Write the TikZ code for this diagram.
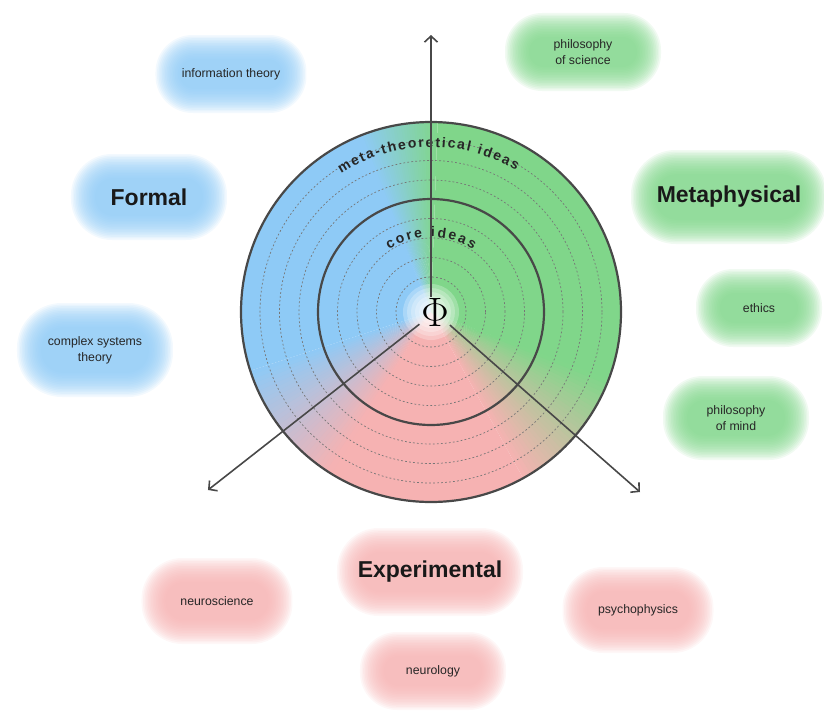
\documentclass[tikz,border=0pt]{standalone}
\usepackage[no-math]{fontspec}
\setmainfont{Liberation Sans}
\usetikzlibrary{arrows.meta,decorations.text}

\definecolor{fblue}{RGB}{142,202,246}
\definecolor{fgreen}{RGB}{128,214,138}
\definecolor{fred}{RGB}{246,178,178}
\definecolor{rimgray}{RGB}{72,72,72}

\newcommand{\arcfont}{\fontsize{14}{16}\selectfont\bfseries}

\tikzset{
  rim/.style={draw=rimgray, line width=2.2pt},
  ring/.style={draw=rimgray!75, line width=0.7pt, dash pattern=on 1.8pt off 2.2pt},
  axis/.style={draw=rimgray, line width=1.6pt, -{Straight Barb[length=6pt,width=13pt]}},
  lbl/.style={align=center, text=black!85, font=\fontsize{12.3}{16}\selectfont},
  head/.style={align=center, text=black!90, font=\fontsize{23}{27}\selectfont\bfseries},
}

% soft glowing label: name, position, width, height, colour, style, text
\newcommand{\blob}[7]{%
  \begin{scope}[shift={#2}]
    \foreach \k in {0,...,15}{
      \pgfmathsetmacro\bw{#3/2+8-1.6*\k}
      \pgfmathsetmacro\bh{#4/2+8-1.6*\k}
      \fill[#5, opacity=0.11, rounded corners=0.95*\bh pt] (-\bw,-\bh) rectangle (\bw,\bh);
    }
  \end{scope}
  \node[#6] (#1) at #2 {#7};
}

\begin{document}
\begin{tikzpicture}[x=1pt, y=1pt]
    \useasboundingbox (-431,-401) rectangle (393,312);

    % the three fields
    \fill[fgreen] (0,0) -- (-21:190) arc[start angle=-21, end angle=88, radius=190] -- cycle;
    \fill[fblue] (0,0) -- (112:190) arc[start angle=112, end angle=198, radius=190] -- cycle;
    \fill[fred] (0,0) -- (238:190) arc[start angle=238, end angle=299, radius=190] -- cycle;
    \foreach \b/\h/\ca/\cb in {100/12/fgreen/fblue, 218/20/fblue/fred, 319/20/fred/fgreen}{
      \foreach \i in {0,...,29}{
        \pgfmathsetmacro\aa{\b-\h+2*\h*\i/30}
        \pgfmathsetmacro\ab{\aa+2*\h/30+0.4}
        \pgfmathtruncatemacro\p{100-100*(\i+0.5)/30}
        \fill[\ca!\p!\cb] (0,0) -- (\aa:190) arc[start angle=\aa, end angle=\ab, radius=190] -- cycle;
      }
    }

    \foreach \r in {35,54.5,74,93.5,132,151.5,171}
      \draw[ring] (0,0) circle[radius=\r];
    \draw[rim] (0,0) circle[radius=113];
    \draw[rim] (0,0) circle[radius=190];

    \foreach \r in {28,24,...,6}
      \fill[white, opacity=0.25] (0,0) circle[radius=\r];

    \path[decorate, decoration={text along path, text color=black!85,
        text={|\arcfont|meta-theoretical  ideas}, text align={fit to path}}]
        (123:165) arc[start angle=123, end angle=59, radius=165];
    \path[decorate, decoration={text along path, text color=black!85,
        text={|\arcfont|core  ideas}, text align={fit to path}}]
        (124:75) arc[start angle=124, end angle=56, radius=75];

    \node[circle, minimum size=34pt, inner sep=0pt, font=\Huge] (phi) at (4,0) {\scalebox{1.65}{$\Phi$}};
    \coordinate (up) at (0,277);
    \coordinate (lowleft) at (-223,-178);
    \coordinate (lowright) at (209,-180);
    \draw[axis] (0,15) -- (up);
    \draw[axis] (phi) -- (lowleft);
    \draw[axis] (phi) -- (lowright);

    % labels round the circle
    \blob{info}{(-200,238)}{135}{62}{fblue}{lbl}{information theory}
    \blob{formal}{(-282,115)}{140}{70}{fblue}{head}{Formal}
    \blob{complex}{(-336,-38)}{140}{78}{fblue}{lbl}{complex systems\\theory}
    \blob{philsci}{(152,260)}{140}{62}{fgreen}{lbl}{philosophy\\of science}
    \blob{meta}{(298,115)}{180}{78}{fgreen}{head}{Metaphysical}
    \blob{ethics}{(328,4)}{110}{62}{fgreen}{lbl}{ethics}
    \blob{philmind}{(305,-106)}{130}{68}{fgreen}{lbl}{philosophy\\of mind}
    \blob{exper}{(-1,-260)}{170}{72}{fred}{head}{Experimental}
    \blob{neurosci}{(-214,-289)}{135}{70}{fred}{lbl}{neuroscience}
    \blob{psycho}{(207,-298)}{135}{70}{fred}{lbl}{psychophysics}
    \blob{neurol}{(2,-359)}{130}{62}{fred}{lbl}{neurology}
\end{tikzpicture}
\end{document}
